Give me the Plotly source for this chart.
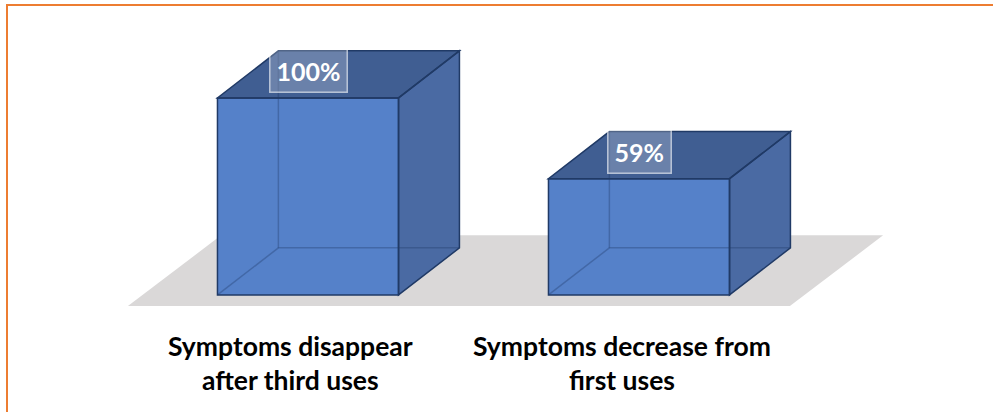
import plotly.graph_objects as go

# ---- data ----
categories = ["Symptoms disappear<br>after third uses", "Symptoms decrease from<br>first uses"]
values = [100, 59]
value_labels = ["100%", "59%"]

# ---- style constants ----
HALF_W = 0.2735      # half bar width (category units)
DEPTH_X = 0.184      # 3D depth offset in x (category units)
DEPTH_Y = 23.9       # 3D depth offset in y (value units)
FRONT = "#5581C9"
TOP = "#405E92"
SIDE = "#4A6AA3"
EDGE = "#203A66"
HIDDEN = "rgba(32,58,102,0.35)"
FLOOR = "#DAD8D8"
FONT = "Lato"

X_RANGE = [-0.9305, 2.0695]
Y_RANGE = [-59.4, 149.7]

fig = go.Figure()
fig.add_trace(go.Scatter(x=[0, 1], y=[0, 0], mode="markers", marker=dict(opacity=0),
                         hoverinfo="skip", showlegend=False))

shapes = []

def poly(pts):
    return "M " + " L ".join(f"{x},{y}" for x, y in pts) + " Z"

# floor (spans the categories, slightly in front of the bars)
n = len(values)
f_left = -0.544
f_right = (n - 1) + 0.456
f_front = -5.6
f_back = f_front + DEPTH_Y * 1.5
f_dx = DEPTH_X * 1.53
shapes.append(dict(type="path", xref="x", yref="y", layer="below",
                   path=poly([(f_left, f_front), (f_right, f_front),
                              (f_right + f_dx, f_back), (f_left + f_dx, f_back)]),
                   fillcolor=FLOOR, line=dict(width=0)))

for i, v in enumerate(values):
    l, r = i - HALF_W, i + HALF_W
    front = [(l, 0), (r, 0), (r, v), (l, v)]
    top = [(l, v), (r, v), (r + DEPTH_X, v + DEPTH_Y), (l + DEPTH_X, v + DEPTH_Y)]
    side = [(r, 0), (r + DEPTH_X, DEPTH_Y), (r + DEPTH_X, v + DEPTH_Y), (r, v)]
    for pts, col in [(side, SIDE), (top, TOP), (front, FRONT)]:
        shapes.append(dict(type="path", xref="x", yref="y", path=poly(pts),
                           fillcolor=col, line=dict(width=0)))
    # hidden (back) edges, seen through the translucent faces
    bl = (l + DEPTH_X, DEPTH_Y)
    for a, b in [(bl, (l + DEPTH_X, v + DEPTH_Y)), (bl, (r + DEPTH_X, DEPTH_Y)), (bl, (l, 0))]:
        shapes.append(dict(type="line", xref="x", yref="y", x0=a[0], y0=a[1], x1=b[0], y1=b[1],
                           line=dict(color=HIDDEN, width=1.5)))
    # visible edges
    for pts in [front, top, side]:
        shapes.append(dict(type="path", xref="x", yref="y", path=poly(pts),
                           fillcolor="rgba(0,0,0,0)", line=dict(color=EDGE, width=1.5)))

# orange frame (left and top)
shapes.append(dict(type="path", xref="paper", yref="paper",
                   path="M 0.00705,0 L 0.00705,0.9879 L 1,0.9879",
                   line=dict(color="#ED7D31", width=2)))

annotations = []
for i, (v, t) in enumerate(zip(values, value_labels)):
    annotations.append(dict(x=i, y=v + 14, xref="x", yref="y", text=f"<b>{t}</b>",
                            showarrow=False, font=dict(family=FONT, size=25, color="white"),
                            bgcolor="rgba(255,255,255,0.22)", bordercolor="rgba(255,255,255,0.6)",
                            borderwidth=1.5, borderpad=6))
for i, c in enumerate(categories):
    annotations.append(dict(x=i - 0.052, y=-34.5, xref="x", yref="y", text=f"<b>{c}</b>",
                            showarrow=False, align="center",
                            font=dict(family=FONT, size=26.5, color="black")))

fig.update_layout(
    width=993, height=412,
    margin=dict(l=0, r=0, t=0, b=0),
    paper_bgcolor="white", plot_bgcolor="white",
    xaxis=dict(range=X_RANGE, visible=False, fixedrange=True),
    yaxis=dict(range=Y_RANGE, visible=False, fixedrange=True),
    shapes=shapes, annotations=annotations, showlegend=False,
)

fig.write_html("out.html", config={"displayModeBar": False},
               post_script="document.body.style.margin='0';document.body.style.overflow='hidden';")
